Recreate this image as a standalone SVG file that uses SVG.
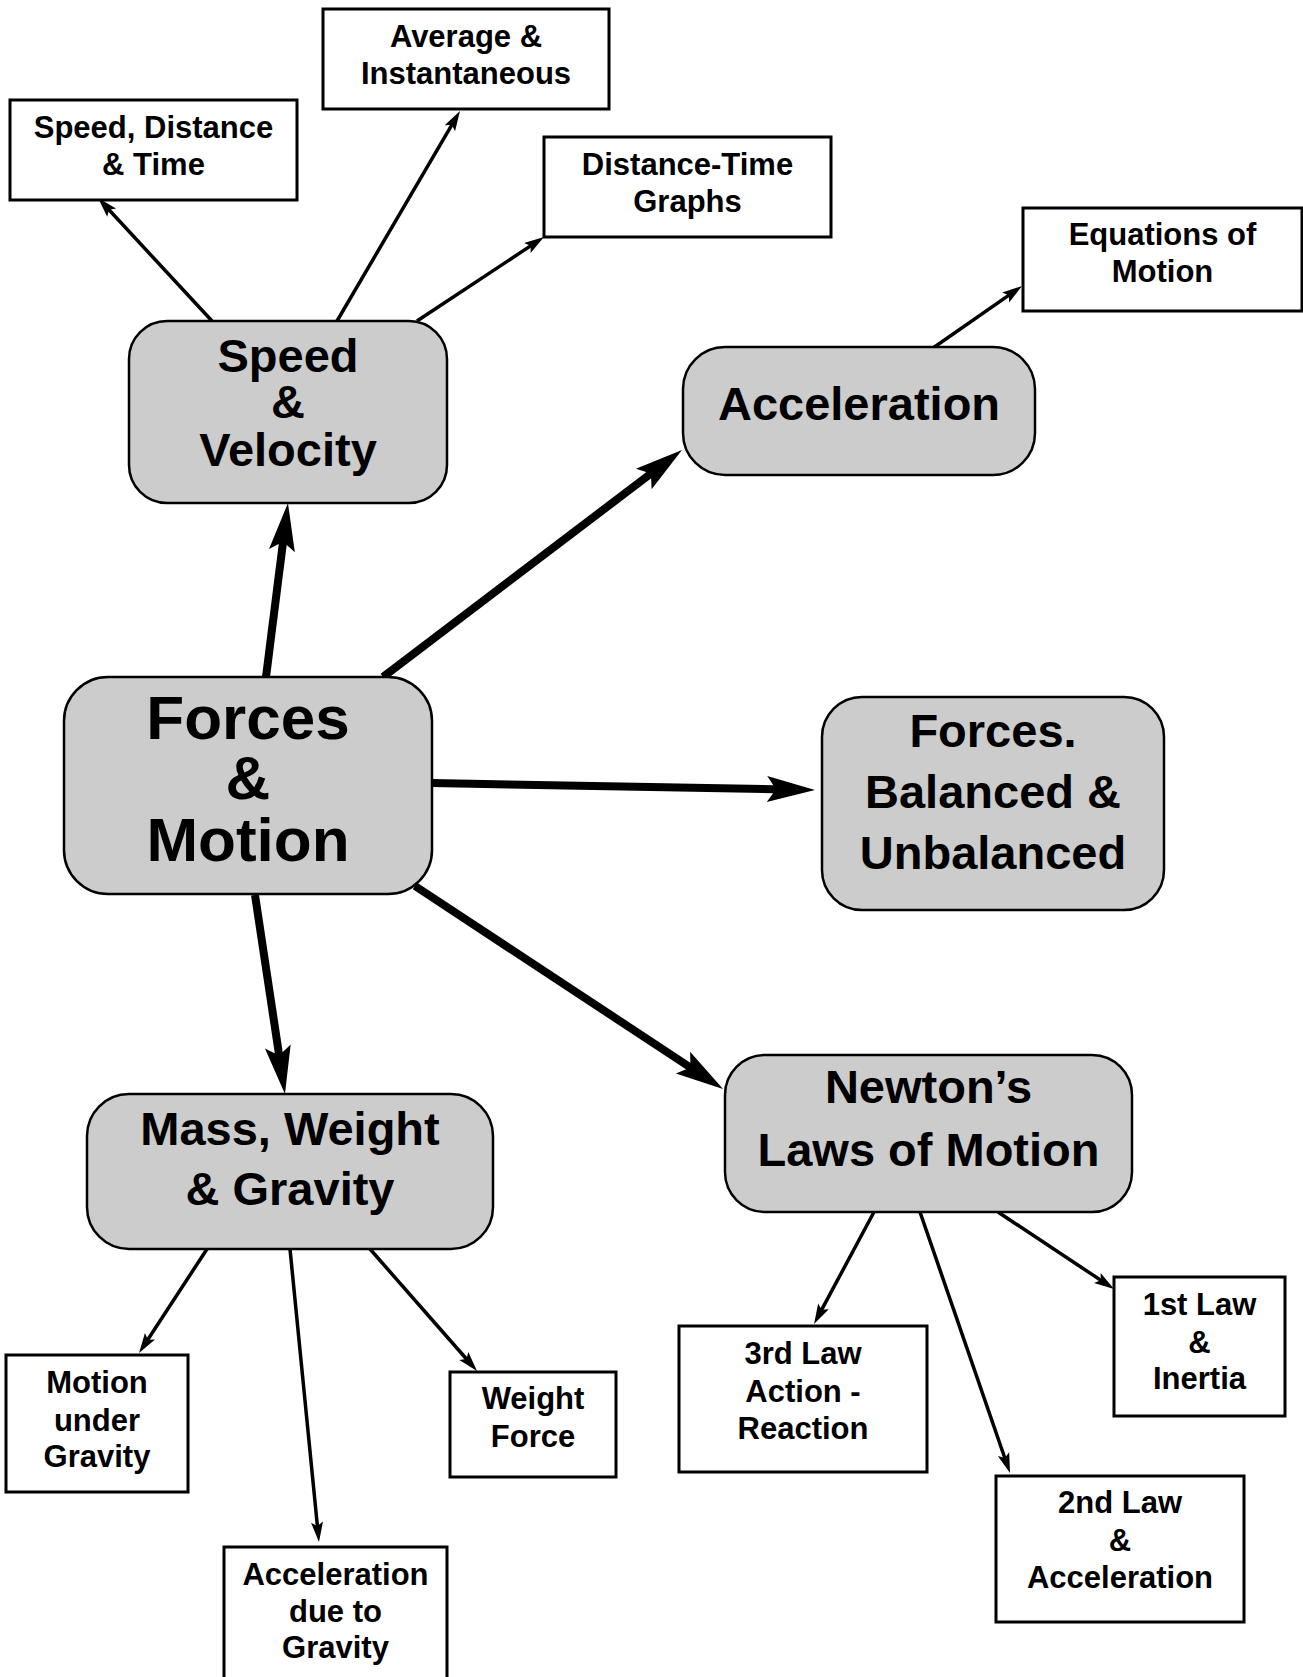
<svg xmlns="http://www.w3.org/2000/svg" width="1303" height="1677" viewBox="0 0 1303 1677">
<style>
  .big { fill:#cccccc; stroke:#000; stroke-width:2.5; }
  .box { fill:#ffffff; stroke:#000; stroke-width:3; }
  text { font-family:"Liberation Sans", Arial, sans-serif; font-weight:bold; fill:#000; text-anchor:middle; }
  .t1 { font-size:31px; }
  .t2 { font-size:47px; }
  .t3 { font-size:62px; }
  .thick { stroke:#000; stroke-width:8; fill:none; marker-end:url(#bigArrow); }
  .thin { stroke:#000; stroke-width:3.5; fill:none; marker-end:url(#smallArrow); }
</style>
<defs>
  <marker id="bigArrow" markerUnits="userSpaceOnUse" markerWidth="48" markerHeight="26" refX="18" refY="13" orient="auto" overflow="visible">
    <path d="M0,0 L48,13 L0,26 L9,13 Z" fill="#000"/>
  </marker>
  <marker id="smallArrow" markerUnits="userSpaceOnUse" markerWidth="20" markerHeight="12" refX="8" refY="6" orient="auto" overflow="visible">
    <path d="M0,0 L20,6 L0,12 L4,6 Z" fill="#000"/>
  </marker>
</defs>
<rect width="1303" height="1677" fill="#fff"/>

<g id="connectors">
  <line class="thick" x1="266" y1="677" x2="284.2" y2="532.8"/>
  <line class="thick" x1="383" y1="677" x2="658.1" y2="468.1"/>
  <line class="thick" x1="432" y1="783" x2="785" y2="789.45"/>
  <line class="thick" x1="415" y1="886" x2="698" y2="1072.5"/>
  <line class="thick" x1="255" y1="895" x2="280.5" y2="1064.3"/>

  <line class="thin" x1="212" y1="321" x2="106.2" y2="206.8"/>
  <line class="thin" x1="337" y1="321" x2="453.9" y2="121.4"/>
  <line class="thin" x1="417" y1="321" x2="534" y2="243.6"/>
  <line class="thin" x1="933" y1="348" x2="1012.2" y2="292.9"/>
  <line class="thin" x1="207" y1="1249" x2="145.6" y2="1343"/>
  <line class="thin" x1="290" y1="1249" x2="317.8" y2="1530.1"/>
  <line class="thin" x1="370" y1="1249" x2="469.1" y2="1362"/>
  <line class="thin" x1="874" y1="1212" x2="819.7" y2="1313.4"/>
  <line class="thin" x1="920" y1="1212" x2="1006.1" y2="1461.7"/>
  <line class="thin" x1="998" y1="1212" x2="1104" y2="1282.4"/>
</g>

<g id="speed-distance-time">
  <rect class="box" x="10" y="100" width="287" height="100"/>
  <text class="t1" x="153.5" y="138">Speed, Distance</text>
  <text class="t1" x="153.5" y="175">&amp; Time</text>
</g>
<g id="average-instantaneous">
  <rect class="box" x="323" y="9" width="286" height="100"/>
  <text class="t1" x="466" y="47">Average &amp;</text>
  <text class="t1" x="466" y="84">Instantaneous</text>
</g>
<g id="distance-time-graphs">
  <rect class="box" x="544" y="137" width="287" height="100"/>
  <text class="t1" x="687.5" y="175">Distance-Time</text>
  <text class="t1" x="687.5" y="212">Graphs</text>
</g>
<g id="equations-of-motion">
  <rect class="box" x="1023" y="208" width="279" height="103"/>
  <text class="t1" x="1162.5" y="245">Equations of</text>
  <text class="t1" x="1162.5" y="282">Motion</text>
</g>
<g id="speed-velocity">
  <rect class="big" x="129" y="321" width="318" height="182" rx="38" ry="38"/>
  <text class="t2" x="288" y="372">Speed</text>
  <text class="t2" x="288" y="418">&amp;</text>
  <text class="t2" x="288" y="466">Velocity</text>
</g>
<g id="acceleration">
  <rect class="big" x="683" y="347" width="352" height="128" rx="42" ry="42"/>
  <text class="t2" x="859" y="420">Acceleration</text>
</g>
<g id="forces-motion">
  <rect class="big" x="64" y="677" width="368" height="217" rx="44" ry="44"/>
  <text class="t3" x="248" y="739">Forces</text>
  <text class="t3" x="248" y="799">&amp;</text>
  <text class="t3" x="248" y="861">Motion</text>
</g>
<g id="forces-balanced">
  <rect class="big" x="822" y="697" width="342" height="213" rx="40" ry="40"/>
  <text class="t2" x="993" y="747">Forces.</text>
  <text class="t2" x="993" y="808">Balanced &amp;</text>
  <text class="t2" x="993" y="869">Unbalanced</text>
</g>
<g id="mass-weight-gravity">
  <rect class="big" x="87" y="1094" width="406" height="155" rx="42" ry="42"/>
  <text class="t2" x="290" y="1145">Mass, Weight</text>
  <text class="t2" x="290" y="1205">&amp; Gravity</text>
</g>
<g id="newtons-laws">
  <rect class="big" x="725" y="1055" width="407" height="157" rx="40" ry="40"/>
  <text class="t2" x="928.5" y="1103">Newton’s</text>
  <text class="t2" x="928.5" y="1166">Laws of Motion</text>
</g>
<g id="motion-under-gravity">
  <rect class="box" x="6" y="1355" width="182" height="137"/>
  <text class="t1" x="97" y="1393">Motion</text>
  <text class="t1" x="97" y="1431">under</text>
  <text class="t1" x="97" y="1467">Gravity</text>
</g>
<g id="weight-force">
  <rect class="box" x="450" y="1372" width="166" height="105"/>
  <text class="t1" x="533" y="1409">Weight</text>
  <text class="t1" x="533" y="1447">Force</text>
</g>
<g id="acceleration-due-to-gravity">
  <rect class="box" x="224" y="1547" width="223" height="150"/>
  <text class="t1" x="335.5" y="1585">Acceleration</text>
  <text class="t1" x="335.5" y="1622">due to</text>
  <text class="t1" x="335.5" y="1658">Gravity</text>
</g>
<g id="third-law">
  <rect class="box" x="679" y="1326" width="248" height="146"/>
  <text class="t1" x="803" y="1364">3rd Law</text>
  <text class="t1" x="803" y="1402">Action -</text>
  <text class="t1" x="803" y="1439">Reaction</text>
</g>
<g id="first-law">
  <rect class="box" x="1114" y="1277" width="171" height="139"/>
  <text class="t1" x="1199.5" y="1315">1st Law</text>
  <text class="t1" x="1199.5" y="1353">&amp;</text>
  <text class="t1" x="1199.5" y="1389">Inertia</text>
</g>
<g id="second-law">
  <rect class="box" x="996" y="1476" width="248" height="146"/>
  <text class="t1" x="1120" y="1513">2nd Law</text>
  <text class="t1" x="1120" y="1551">&amp;</text>
  <text class="t1" x="1120" y="1588">Acceleration</text>
</g>
</svg>
